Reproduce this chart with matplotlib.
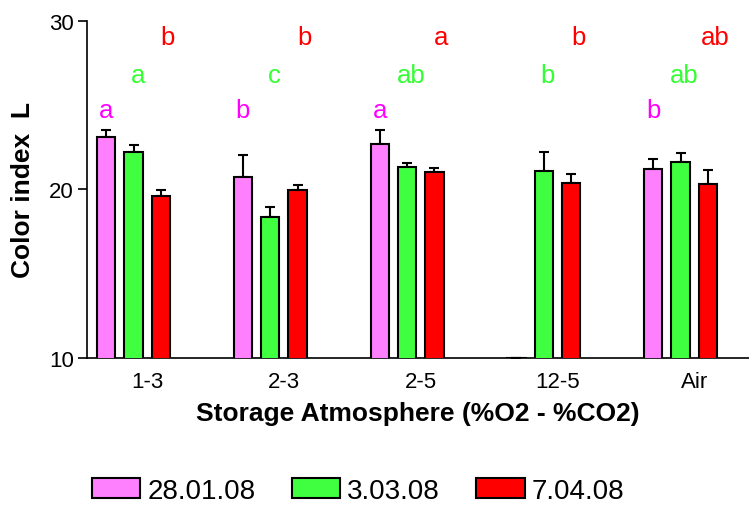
import numpy as np
import matplotlib
matplotlib.use("Agg")
import matplotlib.pyplot as plt
from matplotlib.patches import Patch

plt.rcParams["font.family"] = ["Liberation Sans", "DejaVu Sans"]

atmospheres = ["1-3", "2-3", "2-5", "12-5", "Air"]
dates = ["28.01.08", "3.03.08", "7.04.08"]

mean_jan = [23.1, 20.7, 22.7, 10.0, 21.2]
mean_mar = [22.2, 18.35, 21.3, 21.1, 21.6]
mean_apr = [19.6, 19.95, 21.0, 20.4, 20.3]

err_jan = [0.42, 1.34, 0.83, 0.0, 0.6]
err_mar = [0.44, 0.6, 0.24, 1.1, 0.56]
err_apr = [0.36, 0.28, 0.26, 0.53, 0.85]

letters_jan = ["a", "b", "a", "", "b"]
letters_mar = ["a", "c", "ab", "b", "ab"]
letters_apr = ["b", "b", "a", "b", "ab"]

bar_colors = ["#ff80ff", "#40ff40", "#ff0000"]
letter_colors = ["#ff00ff", "#33ff33", "#ff0000"]

means = [mean_jan, mean_mar, mean_apr]
errs = [err_jan, err_mar, err_apr]
letters = [letters_jan, letters_mar, letters_apr]

fig = plt.figure(figsize=(7.49, 5.06), dpi=100)
ax = fig.add_axes([0.1162, 0.2915, 0.8838, 0.665])

x = np.arange(len(atmospheres))
offsets = [-0.2, 0.0, 0.2]
letter_dx = [-0.2, 0.03, 0.25]
letter_y = [24.7, 26.8, 29.07]
width = 0.134

for i in range(3):
    xs = x + offsets[i]
    ax.bar(xs, means[i], width, color=bar_colors[i], edgecolor="black",
           linewidth=1.5, zorder=3)
    e = np.array(errs[i])
    ax.errorbar(xs, means[i], yerr=[np.zeros_like(e), e], fmt="none",
                ecolor="black", elinewidth=1.5, capsize=3.4, capthick=1.5,
                zorder=2)
    for j, lab in enumerate(letters[i]):
        if lab:
            ax.text(x[j] + letter_dx[i], letter_y[i], lab, color=letter_colors[i],
                    fontsize=18.5, ha="center", va="center")

ax.set_ylim(10, 30)
ax.set_xlim(-0.34, 4.5)
ax.set_yticks([10, 20, 30])
# category labels sit a little right of the group centre in the original
ax.set_xticks(x + 0.1)
ax.set_xticklabels(atmospheres)
ax.tick_params(axis="y", length=6.5, width=1.2, pad=3, labelsize=16)
ax.tick_params(axis="x", length=0, pad=10, labelsize=16)
for s in ["top", "right"]:
    ax.spines[s].set_visible(False)
ax.spines["left"].set_linewidth(1.2)
ax.spines["bottom"].set_linewidth(1.2)

ax.set_xlabel("Storage Atmosphere (%O2 - %CO2)", fontsize=19, fontweight="bold",
              labelpad=6)
ax.set_ylabel("Color index  L", fontsize=19, fontweight="bold", labelpad=10)

handles = [Patch(facecolor=c, edgecolor="black", linewidth=1.5) for c in bar_colors]
fig.legend(handles, dates, loc="center", bbox_to_anchor=(0.478, 0.028), ncol=3,
           frameon=False, fontsize=20, handlelength=1.75, handleheight=0.75,
           handletextpad=0.25, columnspacing=1.3)

fig.savefig("out.png", dpi=100)
